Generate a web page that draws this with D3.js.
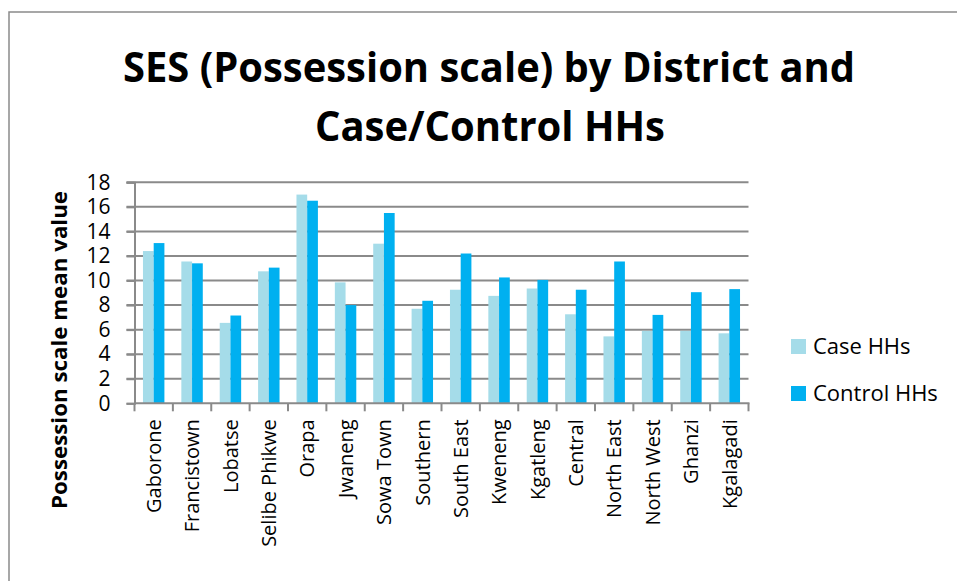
<!DOCTYPE html>
<html>
<head>
<meta charset="utf-8">
<script src="https://cdn.jsdelivr.net/npm/d3@7"></script>
<style>
  body { margin: 0; background: #fff; }
  svg { display: block; font-family: "Open Sans", sans-serif; }
</style>
</head>
<body>
<div class="area"></div>
<script>
const width = 957
const height = 581
const gridColor = "#8a8a8a"
const caseColor = "#a5dce9"
const controlColor = "#00b0f0"

const districts = ["Gaborone", "Francistown", "Lobatse", "Selibe Phikwe", "Orapa", "Jwaneng",
  "Sowa Town", "Southern", "South East", "Kweneng", "Kgatleng", "Central", "North East",
  "North West", "Ghanzi", "Kgalagadi"]
const seriesNames = ["Case HHs", "Control HHs"]
const caseValues = [12.4, 11.55, 6.55, 10.75, 17.0, 9.85, 13.0, 7.7, 9.25, 8.75, 9.35, 7.25, 5.45, 5.9, 5.9, 5.7]
const controlValues = [13.05, 11.4, 7.15, 11.05, 16.5, 8.0, 15.5, 8.35, 12.2, 10.25, 10.05, 9.25, 11.55, 7.2, 9.05, 9.3]
const yTicks = [0, 2, 4, 6, 8, 10, 12, 14, 16, 18]

const svg = d3.select(".area")
  .append("svg")
  .attr("width", width)
  .attr("height", height)

// chart frame (runs off the right and bottom edges)
svg.append("rect")
  .attr("x", 9).attr("y", 12)
  .attr("width", 990).attr("height", 620)
  .attr("fill", "none")
  .attr("stroke", gridColor)
  .attr("stroke-width", 1.5)

// title
const title = svg.append("g")
  .attr("font-weight", "bold")
  .attr("font-size", 42)
  .attr("text-anchor", "middle")
  .attr("fill", "#000")
title.append("text")
  .attr("x", 489).attr("y", 82)
  .attr("textLength", 732)
  .attr("lengthAdjust", "spacingAndGlyphs")
  .text("SES (Possession scale) by District and")
title.append("text")
  .attr("x", 490).attr("y", 141)
  .attr("textLength", 350)
  .attr("lengthAdjust", "spacingAndGlyphs")
  .text("Case/Control HHs")

const plot = { left: 134.5, right: 748.5, top: 182.3, bottom: 403.3 }

const x0 = d3.scaleBand()
  .domain(districts)
  .range([plot.left, plot.right])
  .padding(0)

const x1 = d3.scaleBand()
  .domain(seriesNames)
  .range([0, x0.bandwidth()])
  .paddingInner(0)
  .paddingOuter(0.79)

const y = d3.scaleLinear()
  .domain([0, 18])
  .range([plot.bottom, plot.top])

const gridLayer = svg.append("g")
const barLayer = svg.append("g")
const axisLayer = svg.append("g")

// horizontal gridlines with the left tick marks
gridLayer.selectAll("line")
  .data(yTicks.filter(d => d > 0))
  .enter()
  .append("line")
  .attr("x1", plot.left - 8)
  .attr("x2", plot.right)
  .attr("y1", d => y(d))
  .attr("y2", d => y(d))
  .attr("stroke", gridColor)
  .attr("stroke-width", 2)

const yAxis = axisLayer.append("g")
  .attr("transform", `translate(${plot.left}, 0)`)
  .call(d3.axisLeft(y).tickValues(yTicks).tickSize(8).tickPadding(16))
yAxis.select(".domain").attr("stroke", gridColor).attr("stroke-width", 2)
yAxis.selectAll(".tick line").attr("stroke", gridColor).attr("stroke-width", 2)
yAxis.selectAll("text")
  .attr("font-family", "Open Sans")
  .attr("font-size", 21)
  .attr("fill", "#000")

const rows = districts.map((d, i) => ({ district: d, values: [caseValues[i], controlValues[i]] }))
const colors = [caseColor, controlColor]

barLayer.selectAll("g")
  .data(rows)
  .enter()
  .append("g")
  .attr("transform", d => `translate(${x0(d.district)}, 0)`)
  .selectAll("rect")
  .data(d => d.values.map((v, k) => ({ key: seriesNames[k], value: v, k })))
  .enter()
  .append("rect")
  .attr("x", d => x1(d.key))
  .attr("y", d => y(d.value))
  .attr("width", x1.bandwidth())
  .attr("height", d => y(0) - y(d.value))
  .attr("fill", d => colors[d.k])

const xAxis = axisLayer.append("g")
  .attr("transform", `translate(0, ${plot.bottom})`)
  .call(d3.axisBottom(x0).tickSize(0).tickPadding(0))
xAxis.select(".domain").remove()
xAxis.append("line")
  .attr("x1", plot.left).attr("x2", plot.right + 1)
  .attr("stroke", gridColor).attr("stroke-width", 2)
xAxis.selectAll(".boundary")
  .data(districts.concat(["end"]))
  .enter()
  .append("line")
  .attr("class", "boundary")
  .attr("x1", (d, i) => plot.left + i * x0.step())
  .attr("x2", (d, i) => plot.left + i * x0.step())
  .attr("y1", 0).attr("y2", 8)
  .attr("stroke", gridColor).attr("stroke-width", 2)
xAxis.selectAll(".tick text")
  .attr("font-family", "Open Sans")
  .attr("font-size", 20)
  .attr("fill", "#000")
  .attr("text-anchor", "end")
  .attr("transform", "rotate(-90)")
  .attr("x", -16)
  .attr("y", 0)
  .attr("dy", "0.36em")

// y axis title
svg.append("text")
  .attr("transform", "translate(67, 350) rotate(-90)")
  .attr("text-anchor", "middle")
  .attr("font-weight", "bold")
  .attr("font-size", 21)
  .attr("textLength", 318)
  .attr("lengthAdjust", "spacingAndGlyphs")
  .text("Possession scale mean value")

// legend
const legend = svg.append("g")
  .selectAll("g")
  .data(seriesNames)
  .enter()
  .append("g")
  .attr("transform", (d, i) => `translate(791, ${339 + i * 47})`)
legend.append("rect")
  .attr("width", 15).attr("height", 15)
  .attr("fill", (d, i) => colors[i])
legend.append("text")
  .attr("x", 22).attr("y", 15)
  .attr("font-size", 22)
  .attr("fill", "#000")
  .text(d => d)
</script>
</body>
</html>
